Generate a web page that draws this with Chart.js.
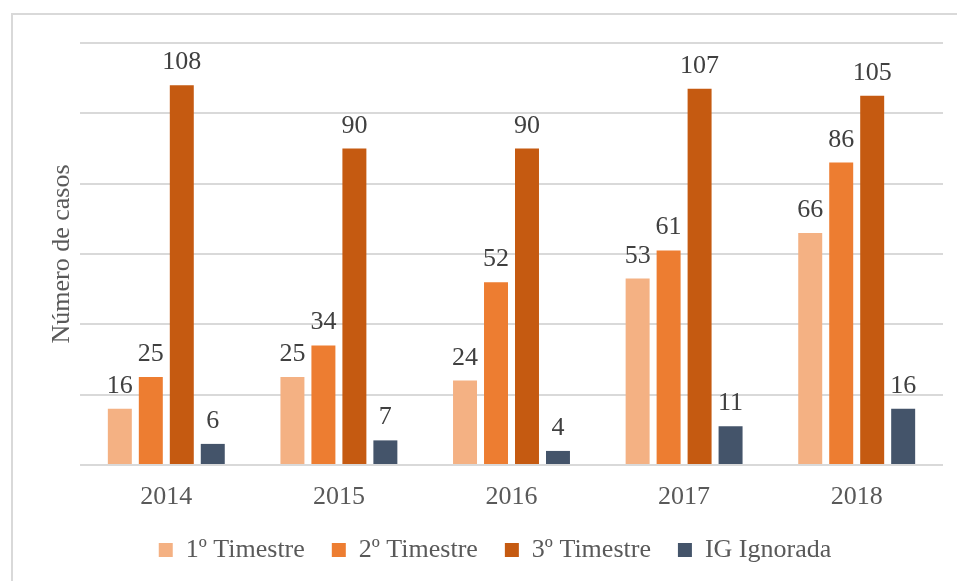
<!DOCTYPE html>
<html>
<head>
<meta charset="utf-8">
<title>Número de casos por trimestre</title>
<script src="https://cdn.jsdelivr.net/npm/chart.js@4/dist/chart.umd.min.js"></script>
<style>
  html, body { margin: 0; padding: 0; background: #ffffff; }
  #wrap { position: relative; width: 957px; height: 581px; overflow: hidden; }
  #frame {
    position: absolute; left: 11px; top: 13px; width: 960px; height: 600px;
    border-left: 2px solid #d9d9d9; border-top: 2px solid #d9d9d9;
    box-sizing: border-box;
  }
  #chart { position: absolute; left: 0; top: 0; }
</style>
</head>
<body>
<div id="wrap">
  <div id="frame"></div>
  <canvas id="chart" width="957" height="581"></canvas>
</div>
<script>
// Years on the category axis
const years = ['2014', '2015', '2016', '2017', '2018'];

// Cases per pregnancy trimester (IG = idade gestacional)
const primeiroTrimestre = [16, 25, 24, 53, 66];
const segundoTrimestre  = [25, 34, 52, 61, 86];
const terceiroTrimestre = [108, 90, 90, 107, 105];
const igIgnorada        = [6, 7, 4, 11, 16];

const seriesNames = ['1º Timestre', '2º Timestre', '3º Timestre', 'IG Ignorada'];
const seriesColors = ['#f4b183', '#ed7d31', '#c55a11', '#44546a'];

const FONT = "'Liberation Serif', 'Times New Roman', serif";

// Writes each bar's value just above it
const valueLabels = {
  id: 'valueLabels',
  afterDatasetsDraw(chart) {
    const ctx = chart.ctx;
    ctx.save();
    ctx.font = '26px ' + FONT;
    ctx.fillStyle = '#404040';
    ctx.textAlign = 'center';
    ctx.textBaseline = 'alphabetic';
    chart.data.datasets.forEach((ds, i) => {
      const meta = chart.getDatasetMeta(i);
      meta.data.forEach((bar, j) => {
        ctx.fillText(String(ds.data[j]), bar.x, bar.y - 16);
      });
    });
    ctx.restore();
  }
};

const allSeries = [primeiroTrimestre, segundoTrimestre, terceiroTrimestre, igIgnorada];

new Chart(document.getElementById('chart'), {
  type: 'bar',
  data: {
    labels: years,
    datasets: allSeries.map((values, i) => ({
      label: seriesNames[i],
      data: values,
      backgroundColor: seriesColors[i],
      borderWidth: 0,
      categoryPercentage: 0.718,
      barPercentage: 0.774
    }))
  },
  options: {
    responsive: false,
    animation: false,
    devicePixelRatio: 1,
    layout: { padding: { top: 43, left: 47, right: 14, bottom: 8 } },
    plugins: {
      tooltip: { enabled: false },
      legend: {
        position: 'bottom',
        labels: {
          font: { family: FONT, size: 26 },
          color: '#595959',
          boxWidth: 14,
          boxHeight: 14,
          padding: 27
        }
      }
    },
    scales: {
      x: {
        grid: { display: false, drawTicks: false },
        border: { display: false },
        ticks: {
          font: { family: FONT, size: 26 },
          color: '#595959',
          padding: 17
        },
        afterFit(scale) { scale.height = 45; }
      },
      y: {
        min: 0,
        max: 120,
        ticks: { display: false, stepSize: 20 },
        grid: { color: '#d9d9d9', lineWidth: 2, drawTicks: false },
        border: { display: false },
        title: {
          display: true,
          text: 'Número de casos',
          font: { family: FONT, size: 26 },
          color: '#595959',
          padding: 0
        },
        afterFit(scale) { scale.width = 33; }
      }
    }
  },
  plugins: [valueLabels]
});
</script>
</body>
</html>
